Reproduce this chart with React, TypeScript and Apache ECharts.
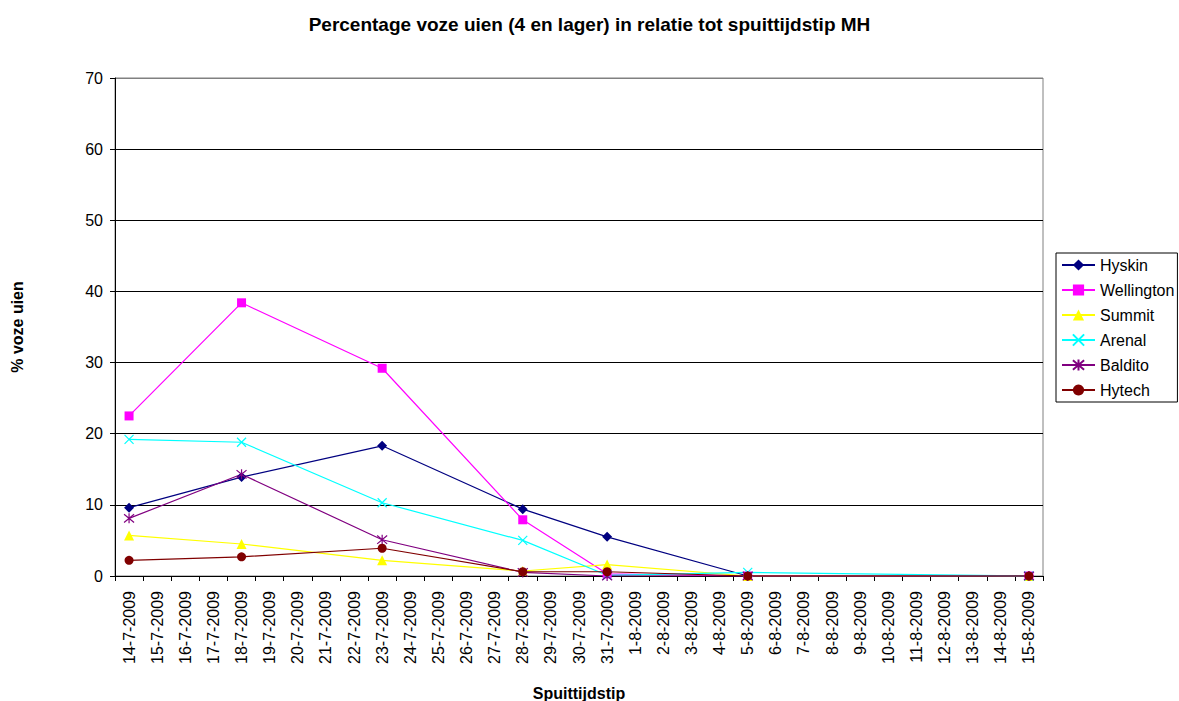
import React, { useEffect, useRef } from "react";
import * as echarts from "echarts";

const categories = [
  "14-7-2009", "15-7-2009", "16-7-2009", "17-7-2009", "18-7-2009", "19-7-2009", "20-7-2009",
  "21-7-2009", "22-7-2009", "23-7-2009", "24-7-2009", "25-7-2009", "26-7-2009", "27-7-2009",
  "28-7-2009", "29-7-2009", "30-7-2009", "31-7-2009", "1-8-2009", "2-8-2009", "3-8-2009",
  "4-8-2009", "5-8-2009", "6-8-2009", "7-8-2009", "8-8-2009", "9-8-2009", "10-8-2009",
  "11-8-2009", "12-8-2009", "13-8-2009", "14-8-2009", "15-8-2009",
];

const measureDates = ["14-7-2009", "18-7-2009", "23-7-2009", "28-7-2009", "31-7-2009", "5-8-2009", "15-8-2009"];

const hyskin = [9.6, 13.9, 18.3, 9.4, 5.5, 0, 0];
const wellington = [22.5, 38.4, 29.2, 7.9, 0.3, 0, 0];
const summit = [5.7, 4.5, 2.2, 0.7, 1.6, 0, 0];
const arenal = [19.2, 18.8, 10.3, 5.0, 0.1, 0.5, 0];
const baldito = [8.1, 14.3, 5.1, 0.5, 0, 0, 0];
const hytech = [2.2, 2.7, 3.9, 0.6, 0.6, 0, 0];

const yTicks = [0, 10, 20, 30, 40, 50, 60, 70];

const X_PATH = "path://M0,0L10,10M10,0L0,10";
const STAR_PATH = "path://M0,0L10,10M10,0L0,10M5,-1L5,11";

function mk(name: string, vals: number[], color: string, symbol: string, size: number, stroked = false) {
  return {
    name,
    type: "line",
    data: measureDates.map((d, i) => [d, vals[i]]),
    connectNulls: true,
    symbol,
    symbolSize: size,
    showSymbol: true,
    lineStyle: { color, width: 1.2 },
    itemStyle: stroked
      ? { color: "rgba(0,0,0,0)", borderColor: color, borderWidth: 1.2 }
      : { color, borderColor: color, borderWidth: 0 },
    color,
    emphasis: { disabled: true },
  };
}

export default function App() {
  const ref = useRef<HTMLDivElement>(null);
  useEffect(() => {
    if (!ref.current) return;
    const chart = echarts.init(ref.current, undefined, { renderer: "svg" });
    const font = "Liberation Sans, Arial, sans-serif";
    chart.setOption({
      animation: false,
      backgroundColor: "#fff",
      textStyle: { fontFamily: font },
      title: {
        text: "Percentage voze uien (4 en lager) in relatie tot spuittijdstip MH",
        left: "center",
        top: 10,
        textStyle: { fontSize: 19, fontWeight: "bold", color: "#000", fontFamily: font },
      },
      grid: {
        left: 115,
        right: 136,
        top: 78,
        bottom: 125,
        containLabel: false,
        outerBoundsMode: "none",
        show: true,
        borderColor: "#808080",
        borderWidth: 1,
        backgroundColor: "#fff",
      },
      legend: {
        orient: "vertical",
        left: 1056,
        top: 253,
        padding: [4, 3, 4, 5],
        borderColor: "#000",
        borderWidth: 1,
        itemWidth: 33,
        itemHeight: 14,
        itemGap: 9,
        textStyle: { fontSize: 16, color: "#000", fontFamily: font },
        data: ["Hyskin", "Wellington", "Summit", "Arenal", "Baldito", "Hytech"],
      },
      xAxis: {
        type: "category",
        data: categories,
        boundaryGap: true,
        name: "Spuittijdstip",
        nameLocation: "middle",
        nameGap: 109,
        nameTextStyle: { fontSize: 16, fontWeight: "bold", color: "#000", fontFamily: font },
        axisLine: { lineStyle: { color: "#000", width: 1 } },
        axisTick: { show: true, length: 5, alignWithLabel: false, lineStyle: { color: "#000" } },
        axisLabel: { rotate: 90, interval: 0, fontSize: 16, color: "#000", margin: 15, fontFamily: font },
        splitLine: { show: false },
      },
      yAxis: {
        type: "value",
        min: yTicks[0],
        max: yTicks[yTicks.length - 1],
        interval: 10,
        name: "% voze uien",
        nameLocation: "middle",
        nameGap: 90,
        nameRotate: 90,
        nameTextStyle: { fontSize: 16, fontWeight: "bold", color: "#000", fontFamily: font },
        axisLine: { show: true, lineStyle: { color: "#000", width: 1 } },
        axisTick: { show: true, length: 5, lineStyle: { color: "#000" } },
        axisLabel: { fontSize: 16, color: "#000", margin: 12, fontFamily: font },
        splitLine: {
          show: true,
          lineStyle: {
            color: ["#000", "#000", "#000", "#000", "#000", "#000", "#000", "#808080"],
            width: 1,
          },
        },
      },
      series: [
        mk("Hyskin", hyskin, "#000080", "diamond", 10),
        mk("Wellington", wellington, "#FF00FF", "rect", 9),
        mk("Summit", summit, "#FFFF00", "triangle", 10),
        mk("Arenal", arenal, "#00FFFF", X_PATH, 9, true),
        mk("Baldito", baldito, "#800080", STAR_PATH, 10, true),
        mk("Hytech", hytech, "#800000", "circle", 9),
      ],
    });
    return () => chart.dispose();
  }, []);
  return (
    <div
      ref={ref}
      style={{ position: "absolute", left: 0, top: 0, width: 1179, height: 701 }}
    />
  );
}
